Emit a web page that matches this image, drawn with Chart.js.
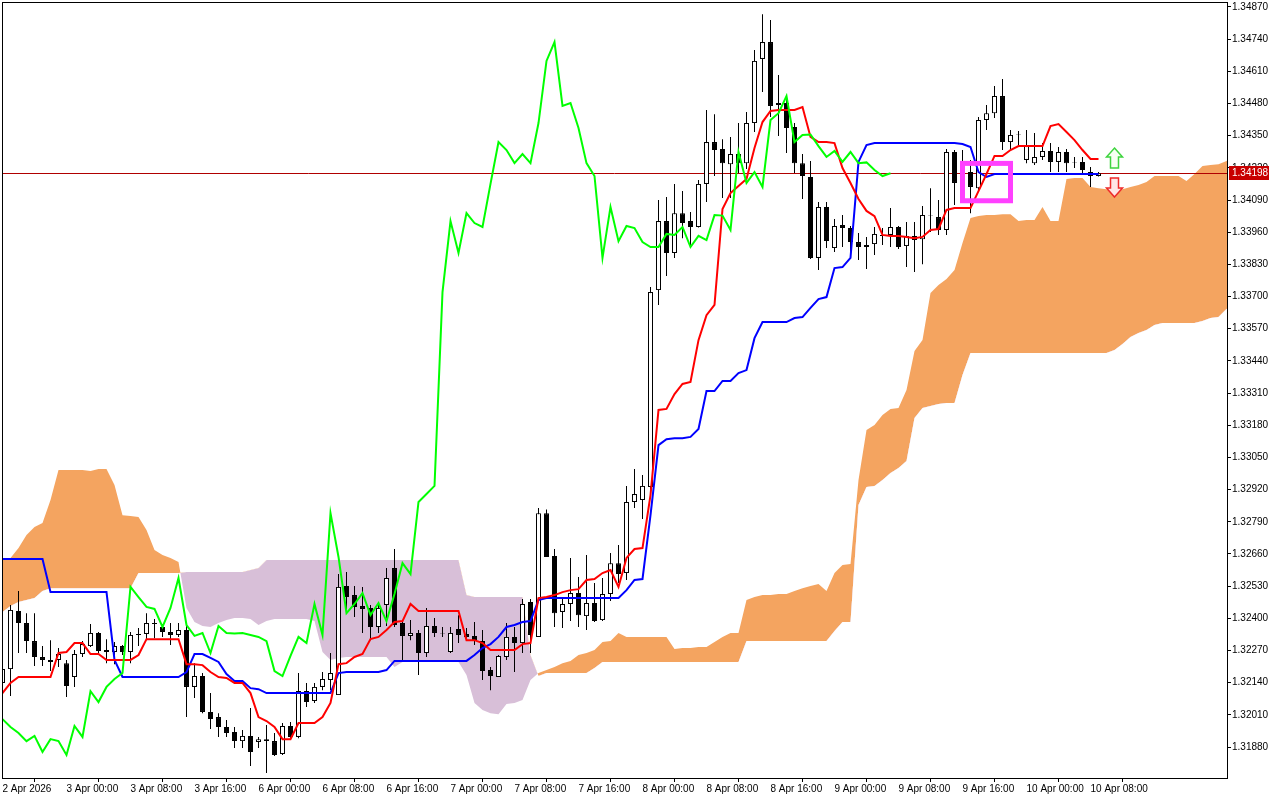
<!DOCTYPE html>
<html>
<head>
<meta charset="utf-8">
<title>H1 Ichimoku</title>
<script src="https://cdn.jsdelivr.net/npm/chart.js@4.4.1/dist/chart.umd.min.js"></script>
<style>
  html, body { margin: 0; padding: 0; background: #fff; }
  #wrap { width: 1280px; height: 800px; }
</style>
</head>
<body>
<div id="wrap"><canvas id="chart" width="1280" height="800"></canvas></div>
<script>
// H1 bars, bar 0 = 2 Apr 2026 16:00
const opens = [
  1.32139, 1.32195, 1.32430, 1.32381, 1.32308, 1.32244, 1.32232, 1.32232, 1.32219, 1.32163,
  1.32256, 1.32288, 1.32341, 1.32272, 1.32264, 1.32288, 1.32264, 1.32337, 1.32337, 1.32381,
  1.32365, 1.32345, 1.32333, 1.32353, 1.32123, 1.32167, 1.32022, 1.32001, 1.31961, 1.31941,
  1.31904, 1.31925, 1.31900, 1.31912, 1.31904, 1.31852, 1.31965, 1.31921, 1.32106, 1.32066,
  1.32123, 1.32151, 1.32090, 1.32531, 1.32494, 1.32450, 1.32442, 1.32365, 1.32454, 1.32603,
  1.32381, 1.32329, 1.32341, 1.32260, 1.32369, 1.32341, 1.32264, 1.32357, 1.32337, 1.32329,
  1.32308, 1.32191, 1.32163, 1.32244, 1.32325, 1.32300, 1.32466, 1.32325, 1.32825, 1.32652,
  1.32426, 1.32458, 1.32502, 1.32409, 1.32462, 1.32393, 1.32498, 1.32623, 1.32583, 1.32870,
  1.32878, 1.32931, 1.33726, 1.34005, 1.33876, 1.34037, 1.34005, 1.33981, 1.34155, 1.34324,
  1.34296, 1.34235, 1.34276, 1.34239, 1.34401, 1.34660, 1.34728, 1.34474, 1.34482, 1.34385,
  1.34239, 1.34183, 1.33856, 1.34062, 1.33896, 1.33989, 1.33977, 1.33920, 1.33908, 1.33912,
  1.33945, 1.33949, 1.33981, 1.33904, 1.33945, 1.33932, 1.34029, 1.34021, 1.33969, 1.34284,
  1.34159, 1.34203, 1.34138, 1.34413, 1.34441, 1.34510, 1.34324, 1.34357, 1.34252, 1.34239,
  1.34264, 1.34288, 1.34244, 1.34284, 1.34244, 1.34244, 1.34203, 1.34187
];
const highs = [
  1.32232, 1.32454, 1.32510, 1.32421, 1.32421, 1.32288, 1.32312, 1.32280, 1.32232, 1.32272,
  1.32308, 1.32377, 1.32345, 1.32316, 1.32304, 1.32292, 1.32345, 1.32361, 1.32421, 1.32397,
  1.32377, 1.32381, 1.32381, 1.32381, 1.32219, 1.32179, 1.32098, 1.32017, 1.31989, 1.31961,
  1.31949, 1.32038, 1.31921, 1.31969, 1.31937, 1.31977, 1.31981, 1.32179, 1.32139, 1.32139,
  1.32183, 1.32260, 1.32579, 1.32587, 1.32531, 1.32527, 1.32454, 1.32462, 1.32603, 1.32680,
  1.32393, 1.32393, 1.32353, 1.32442, 1.32401, 1.32365, 1.32365, 1.32413, 1.32361, 1.32385,
  1.32353, 1.32203, 1.32252, 1.32381, 1.32365, 1.32478, 1.32478, 1.32846, 1.32840, 1.32680,
  1.32486, 1.32644, 1.32567, 1.32656, 1.32543, 1.32563, 1.32664, 1.32696, 1.32935, 1.33003,
  1.32979, 1.33739, 1.34090, 1.34102, 1.34155, 1.34126, 1.34042, 1.34171, 1.34454, 1.34437,
  1.34336, 1.34345, 1.34401, 1.34446, 1.34696, 1.34841, 1.34817, 1.34595, 1.34498, 1.34401,
  1.34276, 1.34248, 1.34082, 1.34082, 1.34013, 1.34029, 1.33985, 1.33957, 1.33941, 1.33981,
  1.33977, 1.34058, 1.33985, 1.34001, 1.34001, 1.34066, 1.34138, 1.34090, 1.34296, 1.34292,
  1.34292, 1.34252, 1.34425, 1.34474, 1.34551, 1.34579, 1.34373, 1.34369, 1.34373, 1.34361,
  1.34320, 1.34320, 1.34304, 1.34296, 1.34264, 1.34264, 1.34223, 1.34203
];
const lows = [
  1.32102, 1.32086, 1.32260, 1.32260, 1.32207, 1.32207, 1.32187, 1.32203, 1.32082, 1.32123,
  1.32244, 1.32284, 1.32256, 1.32219, 1.32215, 1.32252, 1.32219, 1.32288, 1.32316, 1.32320,
  1.32325, 1.32292, 1.32325, 1.32001, 1.32078, 1.32017, 1.31953, 1.31921, 1.31921, 1.31876,
  1.31876, 1.31803, 1.31876, 1.31775, 1.31844, 1.31848, 1.31916, 1.31916, 1.32042, 1.32058,
  1.32110, 1.32110, 1.32090, 1.32421, 1.32405, 1.32341, 1.32312, 1.32341, 1.32369, 1.32365,
  1.32232, 1.32312, 1.32171, 1.32244, 1.32325, 1.32325, 1.32260, 1.32300, 1.32312, 1.32292,
  1.32151, 1.32110, 1.32163, 1.32232, 1.32183, 1.32260, 1.32260, 1.32325, 1.32648, 1.32365,
  1.32361, 1.32389, 1.32365, 1.32353, 1.32385, 1.32389, 1.32470, 1.32543, 1.32555, 1.32846,
  1.32801, 1.32898, 1.33666, 1.33783, 1.33856, 1.33936, 1.33904, 1.33979, 1.34082, 1.34187,
  1.34098, 1.34098, 1.34199, 1.34215, 1.34365, 1.34526, 1.34425, 1.34349, 1.34280, 1.34199,
  1.34094, 1.33852, 1.33807, 1.33896, 1.33880, 1.33900, 1.33880, 1.33848, 1.33811, 1.33868,
  1.33908, 1.33900, 1.33892, 1.33819, 1.33799, 1.33831, 1.33961, 1.33949, 1.33949, 1.34070,
  1.34090, 1.34037, 1.34130, 1.34373, 1.34421, 1.34292, 1.34292, 1.34308, 1.34239, 1.34231,
  1.34252, 1.34203, 1.34203, 1.34203, 1.34219, 1.34191, 1.34143, 1.34185
];
const closes = [
  1.32195, 1.32434, 1.32381, 1.32308, 1.32244, 1.32232, 1.32224, 1.32256, 1.32127, 1.32256,
  1.32296, 1.32341, 1.32268, 1.32264, 1.32288, 1.32264, 1.32333, 1.32333, 1.32381, 1.32377,
  1.32345, 1.32333, 1.32353, 1.32123, 1.32167, 1.32022, 1.31993, 1.31961, 1.31937, 1.31904,
  1.31925, 1.31860, 1.31912, 1.31904, 1.31848, 1.31965, 1.31921, 1.32106, 1.32062, 1.32123,
  1.32155, 1.32179, 1.32527, 1.32486, 1.32446, 1.32438, 1.32365, 1.32442, 1.32563, 1.32373,
  1.32329, 1.32341, 1.32260, 1.32369, 1.32341, 1.32339, 1.32341, 1.32333, 1.32325, 1.32308,
  1.32187, 1.32167, 1.32248, 1.32325, 1.32300, 1.32458, 1.32333, 1.32825, 1.32648, 1.32421,
  1.32458, 1.32502, 1.32413, 1.32462, 1.32389, 1.32498, 1.32623, 1.32579, 1.32870, 1.32902,
  1.32935, 1.33718, 1.34005, 1.33876, 1.34037, 1.33997, 1.33981, 1.34155, 1.34324, 1.34292,
  1.34239, 1.34276, 1.34239, 1.34401, 1.34652, 1.34728, 1.34470, 1.34482, 1.34381, 1.34239,
  1.34187, 1.33856, 1.34062, 1.33924, 1.33985, 1.33977, 1.33920, 1.33900, 1.33900, 1.33953,
  1.33949, 1.33981, 1.33900, 1.33945, 1.33928, 1.34029, 1.34027, 1.33969, 1.34284, 1.34159,
  1.34203, 1.34143, 1.34413, 1.34441, 1.34510, 1.34324, 1.34353, 1.34355, 1.34308, 1.34264,
  1.34288, 1.34244, 1.34284, 1.34239, 1.34242, 1.34211, 1.34187, 1.34198
];

// Ichimoku 9/26/52 as drawn on the chart
const tenkan = [
  1.32098, 1.32139, 1.32163, 1.32163, 1.32163, 1.32163, 1.32163, 1.32260, 1.32264, 1.32300,
  1.32300, 1.32256, 1.32256, 1.32232, 1.32232, 1.32232, 1.32232, 1.32252, 1.32316, 1.32316,
  1.32316, 1.32316, 1.32316, 1.32215, 1.32215, 1.32211, 1.32183, 1.32163, 1.32159, 1.32139,
  1.32139, 1.32098, 1.32001, 1.31985, 1.31961, 1.31912, 1.31912, 1.31977, 1.31977, 1.31977,
  1.32001, 1.32058, 1.32215, 1.32219, 1.32244, 1.32256, 1.32316, 1.32325, 1.32353, 1.32385,
  1.32389, 1.32458, 1.32430, 1.32430, 1.32430, 1.32430, 1.32430, 1.32430, 1.32312, 1.32312,
  1.32300, 1.32272, 1.32272, 1.32272, 1.32272, 1.32296, 1.32300, 1.32482, 1.32486, 1.32494,
  1.32506, 1.32514, 1.32518, 1.32555, 1.32559, 1.32583, 1.32595, 1.32527, 1.32644, 1.32680,
  1.32684, 1.32898, 1.33242, 1.33246, 1.33306, 1.33347, 1.33355, 1.33524, 1.33625, 1.33666,
  1.34054, 1.34118, 1.34147, 1.34175, 1.34300, 1.34405, 1.34450, 1.34454, 1.34454, 1.34454,
  1.34466, 1.34345, 1.34324, 1.34324, 1.34320, 1.34219, 1.34159, 1.34094, 1.34046, 1.34025,
  1.33949, 1.33945, 1.33945, 1.33941, 1.33936, 1.33941, 1.33969, 1.33973, 1.34050, 1.34058,
  1.34058, 1.34058, 1.34126, 1.34195, 1.34268, 1.34268, 1.34292, 1.34308, 1.34308, 1.34308,
  1.34308, 1.34389, 1.34397, 1.34365, 1.34332, 1.34292, 1.34256, 1.34256
];
const kijun = [
  1.32640, 1.32640, 1.32640, 1.32640, 1.32640, 1.32640, 1.32506, 1.32506, 1.32506, 1.32506,
  1.32506, 1.32506, 1.32506, 1.32506, 1.32232, 1.32163, 1.32163, 1.32163, 1.32163, 1.32163,
  1.32163, 1.32163, 1.32163, 1.32183, 1.32256, 1.32256, 1.32240, 1.32224, 1.32175, 1.32147,
  1.32147, 1.32118, 1.32114, 1.32098, 1.32098, 1.32098, 1.32098, 1.32098, 1.32098, 1.32098,
  1.32098, 1.32098, 1.32179, 1.32183, 1.32183, 1.32183, 1.32183, 1.32183, 1.32191, 1.32228,
  1.32228, 1.32228, 1.32228, 1.32228, 1.32228, 1.32228, 1.32228, 1.32228, 1.32228, 1.32252,
  1.32280, 1.32296, 1.32325, 1.32365, 1.32373, 1.32385, 1.32389, 1.32474, 1.32482, 1.32482,
  1.32482, 1.32482, 1.32482, 1.32482, 1.32482, 1.32482, 1.32482, 1.32482, 1.32514, 1.32555,
  1.32559, 1.32817, 1.33100, 1.33124, 1.33128, 1.33128, 1.33133, 1.33165, 1.33318, 1.33318,
  1.33359, 1.33359, 1.33391, 1.33403, 1.33532, 1.33597, 1.33597, 1.33597, 1.33597, 1.33613,
  1.33617, 1.33654, 1.33690, 1.33698, 1.33815, 1.33819, 1.33856, 1.34244, 1.34312, 1.34320,
  1.34320, 1.34320, 1.34320, 1.34320, 1.34320, 1.34320, 1.34320, 1.34320, 1.34320, 1.34320,
  1.34316, 1.34304, 1.34203, 1.34183, 1.34195, 1.34195, 1.34195, 1.34195, 1.34195, 1.34195,
  1.34195, 1.34195, 1.34195, 1.34195, 1.34195, 1.34195, 1.34195, 1.34195
];
// cloud spans, already shifted 26 bars ahead (bars 0..154)
const senkouA = [
  1.32636, 1.32644, 1.32684, 1.32737, 1.32769, 1.32785, 1.32878, 1.32999, 1.32999, 1.32999,
  1.32999, 1.32995, 1.33003, 1.33003, 1.32939, 1.32817, 1.32813, 1.32809, 1.32757, 1.32676,
  1.32656, 1.32644, 1.32628, 1.32442, 1.32385, 1.32369, 1.32365, 1.32381, 1.32393, 1.32401,
  1.32401, 1.32397, 1.32373, 1.32389, 1.32397, 1.32397, 1.32397, 1.32397, 1.32397, 1.32389,
  1.32264, 1.32232, 1.32240, 1.32244, 1.32244, 1.32244, 1.32244, 1.32244, 1.32244, 1.32203,
  1.32224, 1.32232, 1.32224, 1.32224, 1.32224, 1.32224, 1.32224, 1.32224, 1.32171, 1.32058,
  1.32030, 1.32017, 1.32013, 1.32054, 1.32058, 1.32070, 1.32151, 1.32179, 1.32191, 1.32203,
  1.32219, 1.32228, 1.32252, 1.32260, 1.32272, 1.32304, 1.32308, 1.32341, 1.32325, 1.32325,
  1.32325, 1.32325, 1.32325, 1.32325, 1.32276, 1.32280, 1.32280, 1.32284, 1.32284, 1.32304,
  1.32325, 1.32341, 1.32341, 1.32474, 1.32486, 1.32494, 1.32494, 1.32498, 1.32498, 1.32510,
  1.32522, 1.32531, 1.32539, 1.32510, 1.32583, 1.32616, 1.32620, 1.32959, 1.33161, 1.33181,
  1.33221, 1.33246, 1.33250, 1.33322, 1.33480, 1.33524, 1.33714, 1.33747, 1.33771, 1.33807,
  1.33916, 1.34017, 1.34025, 1.34029, 1.34029, 1.34033, 1.34033, 1.34005, 1.34009, 1.34009,
  1.34062, 1.34005, 1.34005, 1.34175, 1.34179, 1.34179, 1.34143, 1.34138, 1.34134, 1.34134,
  1.34134, 1.34143, 1.34151, 1.34163, 1.34187, 1.34187, 1.34187, 1.34187, 1.34167, 1.34195,
  1.34227, 1.34231, 1.34235, 1.34248, 1.34256
];
const senkouB = [
  1.32426, 1.32450, 1.32466, 1.32474, 1.32482, 1.32510, 1.32522, 1.32522, 1.32522, 1.32522,
  1.32522, 1.32522, 1.32522, 1.32522, 1.32522, 1.32522, 1.32522, 1.32583, 1.32583, 1.32583,
  1.32583, 1.32583, 1.32583, 1.32587, 1.32587, 1.32587, 1.32587, 1.32587, 1.32587, 1.32587,
  1.32587, 1.32595, 1.32603, 1.32636, 1.32636, 1.32636, 1.32636, 1.32636, 1.32636, 1.32636,
  1.32636, 1.32636, 1.32636, 1.32636, 1.32636, 1.32636, 1.32636, 1.32636, 1.32636, 1.32636,
  1.32636, 1.32636, 1.32636, 1.32636, 1.32636, 1.32636, 1.32636, 1.32636, 1.32494, 1.32486,
  1.32486, 1.32486, 1.32486, 1.32486, 1.32486, 1.32486, 1.32252, 1.32167, 1.32179, 1.32179,
  1.32179, 1.32179, 1.32179, 1.32179, 1.32199, 1.32224, 1.32224, 1.32224, 1.32224, 1.32224,
  1.32224, 1.32224, 1.32224, 1.32224, 1.32224, 1.32224, 1.32224, 1.32224, 1.32224, 1.32224,
  1.32224, 1.32224, 1.32224, 1.32308, 1.32308, 1.32308, 1.32308, 1.32308, 1.32308, 1.32308,
  1.32308, 1.32308, 1.32308, 1.32308, 1.32349, 1.32385, 1.32385, 1.32858, 1.32931, 1.32935,
  1.32959, 1.32987, 1.33007, 1.33036, 1.33209, 1.33250, 1.33258, 1.33266, 1.33270, 1.33270,
  1.33383, 1.33472, 1.33472, 1.33472, 1.33472, 1.33472, 1.33472, 1.33472, 1.33472, 1.33472,
  1.33472, 1.33472, 1.33472, 1.33472, 1.33472, 1.33472, 1.33472, 1.33472, 1.33472, 1.33484,
  1.33508, 1.33537, 1.33553, 1.33565, 1.33585, 1.33593, 1.33593, 1.33593, 1.33593, 1.33593,
  1.33601, 1.33613, 1.33617, 1.33650, 1.33666
];
// chikou = close drawn 26 bars back
const chikou = closes.slice(26);

const timeLabels = [
  '2 Apr 2026', '3 Apr 00:00', '3 Apr 08:00', '3 Apr 16:00', '6 Apr 00:00', '6 Apr 08:00',
  '6 Apr 16:00', '7 Apr 00:00', '7 Apr 08:00', '7 Apr 16:00', '8 Apr 00:00', '8 Apr 08:00',
  '8 Apr 16:00', '9 Apr 00:00', '9 Apr 08:00', '9 Apr 16:00', '10 Apr 00:00', '10 Apr 08:00'
];
const labelBars = [0, 8, 16, 24, 32, 40, 48, 56, 64, 72, 80, 88, 96, 104, 112, 120, 128, 136];
const priceTicks = [
  1.31880, 1.32010, 1.32140, 1.32270, 1.32400, 1.32530, 1.32660, 1.32790, 1.32920, 1.33050,
  1.33180, 1.33310, 1.33440, 1.33570, 1.33700, 1.33830, 1.33960, 1.34090, 1.34220, 1.34350,
  1.34480, 1.34610, 1.34740, 1.34870
];
const lastPrice = 1.34198;
const markBox = { fromBar: 120, toBar: 126, high: 1.34238, low: 1.34087 };
const signalBar = 139;
const upArrow = [1.34300, 1.34219];   // tip, tail
const downArrow = [1.34102, 1.34179]; // tip, tail

const xMin = -0.0625, xMax = 153.0625;
const yMin = 1.31755, yMax = 1.34890;
const font = { family: 'Liberation Sans', size: 10 };

const pts = arr => arr.map((v, i) => ({ x: i, y: v }));

function drawArrow(ctx, cx, tipY, tailY, stroke, fill) {
  const dir = tailY > tipY ? 1 : -1;
  const head = 9 * dir;
  ctx.beginPath();
  ctx.moveTo(cx, tipY);
  ctx.lineTo(cx + 8, tipY + head);
  ctx.lineTo(cx + 4, tipY + head);
  ctx.lineTo(cx + 4, tailY);
  ctx.lineTo(cx - 4, tailY);
  ctx.lineTo(cx - 4, tipY + head);
  ctx.lineTo(cx - 8, tipY + head);
  ctx.closePath();
  ctx.fillStyle = fill;
  ctx.fill();
  ctx.strokeStyle = stroke;
  ctx.lineWidth = 1.5;
  ctx.stroke();
}

// keep the plot frame fixed, no room reserved for half tick labels
function noLabelPadding(s) {
  s.paddingTop = 0;
  s.paddingBottom = 0;
  s.paddingLeft = 0;
  s.paddingRight = 0;
}

const mtOverlay = {
  id: 'mtOverlay',
  afterDatasetDraw(chart, args) {
    // bid line sits on the cloud but under candles and lines
    if (args.index !== 1) return;
    const { ctx, chartArea: a, scales: { y } } = chart;
    const py = Math.round(y.getPixelForValue(lastPrice)) + 0.5;
    ctx.save();
    ctx.strokeStyle = '#b00000';
    ctx.lineWidth = 1;
    ctx.beginPath();
    ctx.moveTo(a.left, py);
    ctx.lineTo(a.right, py);
    ctx.stroke();
    ctx.restore();
  },
  afterDatasetsDraw(chart) {
    const { ctx, chartArea: a, scales: { x, y } } = chart;
    ctx.save();
    ctx.beginPath();
    ctx.rect(a.left, a.top, a.right - a.left, a.bottom - a.top);
    ctx.clip();
    const x1 = x.getPixelForValue(markBox.fromBar), x2 = x.getPixelForValue(markBox.toBar);
    const y1 = y.getPixelForValue(markBox.high), y2 = y.getPixelForValue(markBox.low);
    ctx.strokeStyle = '#ff40ff';
    ctx.lineWidth = 5;
    ctx.strokeRect(x1, y1, x2 - x1, y2 - y1);
    const ax = x.getPixelForValue(signalBar);
    drawArrow(ctx, ax, y.getPixelForValue(upArrow[0]), y.getPixelForValue(upArrow[1]), '#3ed43e', '#f6fff2');
    drawArrow(ctx, ax, y.getPixelForValue(downArrow[0]), y.getPixelForValue(downArrow[1]), '#ee2a2a', '#ffe6e6');
    ctx.restore();
  },
  afterDraw(chart) {
    const { ctx, chartArea: a, scales: { y } } = chart;
    ctx.save();
    ctx.strokeStyle = '#000';
    ctx.lineWidth = 1;
    ctx.strokeRect(a.left + 0.5, a.top + 0.5, a.right - a.left, a.bottom - a.top);
    // current price tag on the price scale
    const ty = Math.round(y.getPixelForValue(lastPrice));
    ctx.fillStyle = '#c80000';
    ctx.fillRect(a.right + 2, ty - 7, 40, 14);
    ctx.fillStyle = '#fff';
    ctx.font = '10px "Liberation Sans"';
    ctx.textBaseline = 'middle';
    ctx.textAlign = 'left';
    ctx.fillText(lastPrice.toFixed(5), a.right + 5, ty + 0.5);
    ctx.restore();
  }
};

new Chart(document.getElementById('chart'), {
  type: 'line',
  data: {
    datasets: [
      {
        label: 'Senkou Span B',
        data: pts(senkouB),
        borderColor: 'rgba(0,0,0,0)',
        borderWidth: 1,
        pointRadius: 0,
        fill: false,
        order: 7
      },
      {
        label: 'Senkou Span A',
        data: pts(senkouA),
        borderColor: 'rgba(0,0,0,0)',
        borderWidth: 1,
        pointRadius: 0,
        fill: { target: 0, above: '#f4a460', below: '#d8bfd8' },
        order: 6
      },
      {
        type: 'bar',
        label: 'wicks',
        data: opens.map((o, i) => ({ x: i, y: [lows[i], highs[i]] })),
        backgroundColor: '#000',
        borderWidth: 0,
        maxBarThickness: 1,
        grouped: false,
        inflateAmount: 0,
        order: 5
      },
      {
        type: 'bar',
        label: 'bodies',
        data: opens.map((o, i) => ({ x: i, y: [o, closes[i]] })),
        backgroundColor: ctx => closes[ctx.dataIndex] >= opens[ctx.dataIndex] ? '#fff' : '#000',
        borderColor: '#000',
        borderWidth: 1,
        borderSkipped: false,
        maxBarThickness: 5,
        grouped: false,
        inflateAmount: 0,
        order: 4
      },
      {
        label: 'Kijun-sen',
        data: pts(kijun),
        borderColor: '#0000ff',
        borderWidth: 2,
        pointRadius: 0,
        fill: false,
        order: 3
      },
      {
        label: 'Tenkan-sen',
        data: pts(tenkan),
        borderColor: '#ff0000',
        borderWidth: 2,
        pointRadius: 0,
        fill: false,
        order: 2
      },
      {
        label: 'Chikou Span',
        data: pts(chikou),
        borderColor: '#00ff00',
        borderWidth: 2,
        pointRadius: 0,
        fill: false,
        order: 1
      }
    ]
  },
  options: {
    responsive: false,
    devicePixelRatio: 1,
    animation: false,
    events: [],
    layout: { padding: { top: 2, left: 2, right: 0, bottom: 0 } },
    plugins: {
      legend: { display: false },
      tooltip: { enabled: false }
    },
    scales: {
      x: {
        type: 'linear',
        min: xMin,
        max: xMax,
        offset: false,
        bounds: 'data',
        afterBuildTicks: s => { s.ticks = labelBars.map(v => ({ value: v })); },
        afterFit: s => { s.height = 22; noLabelPadding(s); },
        grid: { drawOnChartArea: false, drawTicks: true, tickLength: 4, color: '#000' },
        border: { display: false },
        ticks: {
          autoSkip: false,
          maxRotation: 0,
          align: 'start',
          padding: 1,
          color: '#000',
          font: font,
          callback: (v, i) => timeLabels[i]
        }
      },
      y: {
        type: 'linear',
        position: 'right',
        min: yMin,
        max: yMax,
        bounds: 'data',
        afterBuildTicks: s => { s.ticks = priceTicks.map(v => ({ value: v })); },
        afterFit: s => { s.width = 53; noLabelPadding(s); },
        grid: { drawOnChartArea: false, drawTicks: true, tickLength: 4, color: '#000' },
        border: { display: false },
        ticks: {
          autoSkip: false,
          padding: 1,
          color: '#000',
          font: font,
          callback: v => v.toFixed(5)
        }
      }
    }
  },
  plugins: [mtOverlay]
});
</script>
</body>
</html>
